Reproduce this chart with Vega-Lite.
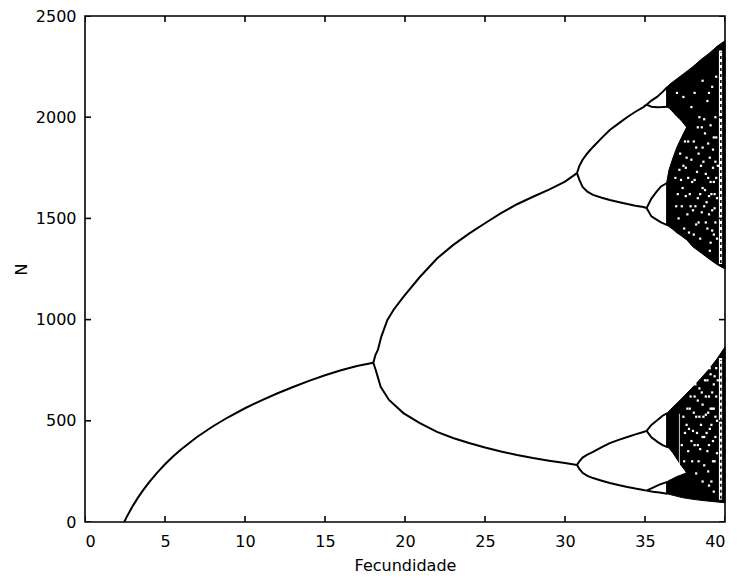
{
  "$schema": "https://vega.github.io/schema/vega-lite/v6.json",
  "width": 640,
  "height": 506,
  "autosize": {"type": "none"},
  "padding": {"left": 85, "top": 16, "right": 12, "bottom": 59},
  "background": "white",
  "config": {
    "view": {"stroke": "black", "strokeWidth": 1.6},
    "axis": {
      "domain": false,
      "ticks": false,
      "grid": false,
      "format": "d",
      "labelFont": "DejaVu Sans",
      "labelFontSize": 16,
      "labelColor": "black",
      "titleFont": "DejaVu Sans",
      "titleFontSize": 16,
      "titleFontWeight": "normal",
      "titleColor": "black"
    }
  },
  "datasets": {
    "xticks": [{"v": 0}, {"v": 5}, {"v": 10}, {"v": 15}, {"v": 20}, {"v": 25}, {"v": 30}, {"v": 35}, {"v": 40}],
    "yticks": [{"v": 0}, {"v": 500}, {"v": 1000}, {"v": 1500}, {"v": 2000}, {"v": 2500}],
    "branches": [
      {"b": "p1", "fec": 2.45, "n": 0}, {"b": "p1", "fec": 2.6, "n": 24}, {"b": "p1", "fec": 2.8, "n": 53},
      {"b": "p1", "fec": 3.0, "n": 81}, {"b": "p1", "fec": 3.3, "n": 119}, {"b": "p1", "fec": 3.6, "n": 154},
      {"b": "p1", "fec": 4.0, "n": 196}, {"b": "p1", "fec": 4.5, "n": 243}, {"b": "p1", "fec": 5, "n": 285},
      {"b": "p1", "fec": 5.5, "n": 324}, {"b": "p1", "fec": 6, "n": 358}, {"b": "p1", "fec": 7, "n": 420},
      {"b": "p1", "fec": 8, "n": 473}, {"b": "p1", "fec": 9, "n": 520}, {"b": "p1", "fec": 10, "n": 562},
      {"b": "p1", "fec": 11, "n": 600}, {"b": "p1", "fec": 12, "n": 635}, {"b": "p1", "fec": 13, "n": 667},
      {"b": "p1", "fec": 14, "n": 697}, {"b": "p1", "fec": 15, "n": 725}, {"b": "p1", "fec": 16, "n": 750},
      {"b": "p1", "fec": 17, "n": 771}, {"b": "p1", "fec": 18.02, "n": 787},

      {"b": "p2a", "fec": 18.02, "n": 787}, {"b": "p2a", "fec": 18.15, "n": 825}, {"b": "p2a", "fec": 18.31, "n": 852},
      {"b": "p2a", "fec": 18.52, "n": 916}, {"b": "p2a", "fec": 18.9, "n": 998}, {"b": "p2a", "fec": 19.3, "n": 1050},
      {"b": "p2a", "fec": 19.9, "n": 1112}, {"b": "p2a", "fec": 20.9, "n": 1208}, {"b": "p2a", "fec": 22, "n": 1302},
      {"b": "p2a", "fec": 23, "n": 1368}, {"b": "p2a", "fec": 24, "n": 1425}, {"b": "p2a", "fec": 25, "n": 1476},
      {"b": "p2a", "fec": 26, "n": 1526}, {"b": "p2a", "fec": 27, "n": 1570}, {"b": "p2a", "fec": 28, "n": 1607},
      {"b": "p2a", "fec": 29, "n": 1642}, {"b": "p2a", "fec": 30, "n": 1682}, {"b": "p2a", "fec": 30.75, "n": 1724},

      {"b": "p2b", "fec": 18.02, "n": 787}, {"b": "p2b", "fec": 18.17, "n": 751}, {"b": "p2b", "fec": 18.48, "n": 668},
      {"b": "p2b", "fec": 19.0, "n": 603}, {"b": "p2b", "fec": 19.9, "n": 538}, {"b": "p2b", "fec": 20.9, "n": 490},
      {"b": "p2b", "fec": 22, "n": 445}, {"b": "p2b", "fec": 23, "n": 415}, {"b": "p2b", "fec": 24, "n": 390},
      {"b": "p2b", "fec": 25, "n": 368}, {"b": "p2b", "fec": 26, "n": 348}, {"b": "p2b", "fec": 27, "n": 331},
      {"b": "p2b", "fec": 28, "n": 316}, {"b": "p2b", "fec": 29, "n": 303}, {"b": "p2b", "fec": 30, "n": 291},
      {"b": "p2b", "fec": 30.75, "n": 282},

      {"b": "p4a", "fec": 30.75, "n": 1724}, {"b": "p4a", "fec": 30.9, "n": 1760}, {"b": "p4a", "fec": 31.1, "n": 1790},
      {"b": "p4a", "fec": 31.4, "n": 1822}, {"b": "p4a", "fec": 31.75, "n": 1853}, {"b": "p4a", "fec": 32.3, "n": 1898},
      {"b": "p4a", "fec": 32.8, "n": 1937}, {"b": "p4a", "fec": 33.4, "n": 1972}, {"b": "p4a", "fec": 33.9, "n": 2001},
      {"b": "p4a", "fec": 34.4, "n": 2027}, {"b": "p4a", "fec": 34.9, "n": 2050}, {"b": "p4a", "fec": 35.1, "n": 2062},

      {"b": "p4b", "fec": 30.75, "n": 1724}, {"b": "p4b", "fec": 30.9, "n": 1690}, {"b": "p4b", "fec": 31.1, "n": 1655},
      {"b": "p4b", "fec": 31.4, "n": 1632}, {"b": "p4b", "fec": 31.75, "n": 1616}, {"b": "p4b", "fec": 32.3, "n": 1602},
      {"b": "p4b", "fec": 32.8, "n": 1591}, {"b": "p4b", "fec": 33.4, "n": 1580}, {"b": "p4b", "fec": 33.9, "n": 1571},
      {"b": "p4b", "fec": 34.4, "n": 1563}, {"b": "p4b", "fec": 34.9, "n": 1556}, {"b": "p4b", "fec": 35.1, "n": 1551},

      {"b": "p4c", "fec": 30.75, "n": 282}, {"b": "p4c", "fec": 30.9, "n": 300}, {"b": "p4c", "fec": 31.1, "n": 318},
      {"b": "p4c", "fec": 31.4, "n": 333}, {"b": "p4c", "fec": 31.75, "n": 346}, {"b": "p4c", "fec": 32.3, "n": 370},
      {"b": "p4c", "fec": 32.8, "n": 390}, {"b": "p4c", "fec": 33.4, "n": 407}, {"b": "p4c", "fec": 33.9, "n": 420},
      {"b": "p4c", "fec": 34.4, "n": 433}, {"b": "p4c", "fec": 34.9, "n": 445}, {"b": "p4c", "fec": 35.1, "n": 450},

      {"b": "p4d", "fec": 30.75, "n": 282}, {"b": "p4d", "fec": 30.9, "n": 262}, {"b": "p4d", "fec": 31.1, "n": 243},
      {"b": "p4d", "fec": 31.4, "n": 228}, {"b": "p4d", "fec": 31.75, "n": 217}, {"b": "p4d", "fec": 32.3, "n": 204},
      {"b": "p4d", "fec": 32.8, "n": 193}, {"b": "p4d", "fec": 33.4, "n": 182}, {"b": "p4d", "fec": 33.9, "n": 173},
      {"b": "p4d", "fec": 34.4, "n": 165}, {"b": "p4d", "fec": 34.9, "n": 158}, {"b": "p4d", "fec": 35.1, "n": 155},

      {"b": "p8a", "fec": 35.1, "n": 2062}, {"b": "p8a", "fec": 35.4, "n": 2082}, {"b": "p8a", "fec": 35.75, "n": 2100},
      {"b": "p8a", "fec": 36.1, "n": 2125}, {"b": "p8a", "fec": 36.4, "n": 2149},
      {"b": "p8b", "fec": 35.1, "n": 2062}, {"b": "p8b", "fec": 35.4, "n": 2052}, {"b": "p8b", "fec": 35.75, "n": 2049},
      {"b": "p8b", "fec": 36.1, "n": 2050}, {"b": "p8b", "fec": 36.4, "n": 2052},
      {"b": "p8c", "fec": 35.1, "n": 1551}, {"b": "p8c", "fec": 35.4, "n": 1598}, {"b": "p8c", "fec": 35.7, "n": 1630},
      {"b": "p8c", "fec": 36.0, "n": 1658}, {"b": "p8c", "fec": 36.4, "n": 1675},
      {"b": "p8d", "fec": 35.1, "n": 1551}, {"b": "p8d", "fec": 35.4, "n": 1510}, {"b": "p8d", "fec": 35.7, "n": 1495},
      {"b": "p8d", "fec": 36.0, "n": 1480}, {"b": "p8d", "fec": 36.4, "n": 1467},
      {"b": "p8e", "fec": 35.1, "n": 450}, {"b": "p8e", "fec": 35.4, "n": 480}, {"b": "p8e", "fec": 35.8, "n": 505},
      {"b": "p8e", "fec": 36.1, "n": 525}, {"b": "p8e", "fec": 36.4, "n": 538},
      {"b": "p8f", "fec": 35.1, "n": 450}, {"b": "p8f", "fec": 35.4, "n": 418}, {"b": "p8f", "fec": 35.8, "n": 395},
      {"b": "p8f", "fec": 36.1, "n": 380}, {"b": "p8f", "fec": 36.4, "n": 370},
      {"b": "p8g", "fec": 35.1, "n": 155}, {"b": "p8g", "fec": 35.5, "n": 170}, {"b": "p8g", "fec": 35.9, "n": 185},
      {"b": "p8g", "fec": 36.4, "n": 198},
      {"b": "p8h", "fec": 35.1, "n": 155}, {"b": "p8h", "fec": 35.5, "n": 150}, {"b": "p8h", "fec": 35.9, "n": 146},
      {"b": "p8h", "fec": 36.4, "n": 140}
    ],
    "chaos": [
      {"band": "u1", "fec": 36.35, "lo": 2052, "hi": 2145}, {"band": "u1", "fec": 36.5, "lo": 2045, "hi": 2160},
      {"band": "u1", "fec": 36.75, "lo": 2025, "hi": 2175}, {"band": "u1", "fec": 37.0, "lo": 2003, "hi": 2190},
      {"band": "u1", "fec": 37.25, "lo": 1985, "hi": 2205}, {"band": "u1", "fec": 37.5, "lo": 1960, "hi": 2220},
      {"band": "u1", "fec": 37.6, "lo": 1950, "hi": 2226},

      {"band": "u2", "fec": 36.35, "lo": 1467, "hi": 1675}, {"band": "u2", "fec": 36.5, "lo": 1460, "hi": 1740},
      {"band": "u2", "fec": 36.75, "lo": 1445, "hi": 1800}, {"band": "u2", "fec": 37.0, "lo": 1428, "hi": 1853},
      {"band": "u2", "fec": 37.25, "lo": 1415, "hi": 1895}, {"band": "u2", "fec": 37.5, "lo": 1400, "hi": 1935},
      {"band": "u2", "fec": 37.6, "lo": 1395, "hi": 1950},

      {"band": "u", "fec": 37.6, "lo": 1395, "hi": 2226}, {"band": "u", "fec": 38.0, "lo": 1359, "hi": 2250},
      {"band": "u", "fec": 38.5, "lo": 1330, "hi": 2285}, {"band": "u", "fec": 39.0, "lo": 1300, "hi": 2315},
      {"band": "u", "fec": 39.5, "lo": 1272, "hi": 2350}, {"band": "u", "fec": 40.0, "lo": 1250, "hi": 2378},

      {"band": "l1", "fec": 36.35, "lo": 370, "hi": 535}, {"band": "l1", "fec": 36.5, "lo": 365, "hi": 548},
      {"band": "l1", "fec": 36.75, "lo": 340, "hi": 568}, {"band": "l1", "fec": 37.0, "lo": 310, "hi": 587},
      {"band": "l1", "fec": 37.25, "lo": 280, "hi": 607}, {"band": "l1", "fec": 37.5, "lo": 255, "hi": 627},
      {"band": "l1", "fec": 37.6, "lo": 242, "hi": 635},

      {"band": "l2", "fec": 36.35, "lo": 140, "hi": 198}, {"band": "l2", "fec": 36.5, "lo": 137, "hi": 205},
      {"band": "l2", "fec": 36.75, "lo": 132, "hi": 215}, {"band": "l2", "fec": 37.0, "lo": 127, "hi": 225},
      {"band": "l2", "fec": 37.25, "lo": 122, "hi": 232}, {"band": "l2", "fec": 37.5, "lo": 118, "hi": 240},
      {"band": "l2", "fec": 37.6, "lo": 117, "hi": 242},

      {"band": "l", "fec": 37.6, "lo": 117, "hi": 635}, {"band": "l", "fec": 38.0, "lo": 112, "hi": 667},
      {"band": "l", "fec": 38.5, "lo": 107, "hi": 710}, {"band": "l", "fec": 39.0, "lo": 103, "hi": 755},
      {"band": "l", "fec": 39.5, "lo": 99, "hi": 806}, {"band": "l", "fec": 40.0, "lo": 95, "hi": 865}
    ],
    "gaps": [
      {"f0": 39.62, "f1": 39.82, "lo": 1275, "hi": 2330},
      {"f0": 39.62, "f1": 39.82, "lo": 110, "hi": 810},
      {"f0": 37.12, "f1": 37.17, "lo": 260, "hi": 535}
    ],
    "window": [
      {"fec": 39.74, "lo": 1280, "hi": 2320},
      {"fec": 39.74, "lo": 115, "hi": 800}
    ],
    "speckles": [
      {"fec": 37.2, "n": 1820}, {"fec": 37.4, "n": 1760}, {"fec": 37.5, "n": 1880}, {"fec": 37.7, "n": 1700},
      {"fec": 37.8, "n": 1620}, {"fec": 37.9, "n": 1790}, {"fec": 38.0, "n": 1540}, {"fec": 38.1, "n": 1690},
      {"fec": 38.2, "n": 1850}, {"fec": 38.3, "n": 1600}, {"fec": 38.35, "n": 1480}, {"fec": 38.5, "n": 1760},
      {"fec": 38.6, "n": 1650}, {"fec": 38.7, "n": 1560}, {"fec": 38.75, "n": 1920}, {"fec": 38.8, "n": 1720},
      {"fec": 38.9, "n": 1450}, {"fec": 39.0, "n": 1610}, {"fec": 39.05, "n": 1800}, {"fec": 39.1, "n": 1680},
      {"fec": 39.2, "n": 1540}, {"fec": 39.25, "n": 1750}, {"fec": 39.3, "n": 1900}, {"fec": 39.35, "n": 1620},
      {"fec": 39.4, "n": 1480}, {"fec": 39.45, "n": 1700}, {"fec": 38.4, "n": 2000}, {"fec": 38.9, "n": 2080},
      {"fec": 39.2, "n": 2150}, {"fec": 37.9, "n": 2050}, {"fec": 39.4, "n": 2000}, {"fec": 38.6, "n": 1850},
      {"fec": 37.6, "n": 1800}, {"fec": 38.2, "n": 1470}, {"fec": 39.1, "n": 1380}, {"fec": 38.85, "n": 1580},
      {"fec": 37.35, "n": 1650}, {"fec": 39.3, "n": 1420},
      {"fec": 36.9, "n": 1700}, {"fec": 36.95, "n": 1560}, {"fec": 37.05, "n": 1620}, {"fec": 37.1, "n": 1500},
      {"fec": 37.15, "n": 1740}, {"fec": 37.3, "n": 1560}, {"fec": 37.45, "n": 1450}, {"fec": 37.55, "n": 1610},
      {"fec": 37.65, "n": 1520}, {"fec": 37.7, "n": 1880}, {"fec": 37.75, "n": 1430}, {"fec": 37.85, "n": 1560},
      {"fec": 37.95, "n": 1680}, {"fec": 38.05, "n": 1880}, {"fec": 38.05, "n": 1420}, {"fec": 38.15, "n": 1560},
      {"fec": 38.25, "n": 1730}, {"fec": 38.3, "n": 1950}, {"fec": 38.45, "n": 1620}, {"fec": 38.45, "n": 1400},
      {"fec": 38.55, "n": 1530}, {"fec": 38.65, "n": 1780}, {"fec": 38.7, "n": 1990}, {"fec": 38.8, "n": 1480},
      {"fec": 38.95, "n": 1700}, {"fec": 38.95, "n": 1870}, {"fec": 39.0, "n": 1520}, {"fec": 39.0, "n": 2120},
      {"fec": 39.1, "n": 1960}, {"fec": 39.15, "n": 1620}, {"fec": 39.2, "n": 1440}, {"fec": 39.25, "n": 1840},
      {"fec": 39.3, "n": 1680}, {"fec": 39.35, "n": 1550}, {"fec": 39.4, "n": 1780}, {"fec": 39.45, "n": 1900},
      {"fec": 39.5, "n": 1600}, {"fec": 39.5, "n": 1400}, {"fec": 39.55, "n": 1760}, {"fec": 38.1, "n": 2120},
      {"fec": 38.6, "n": 2180}, {"fec": 37.4, "n": 2100}, {"fec": 37.0, "n": 2120}, {"fec": 38.35, "n": 1820},
      {"fec": 38.75, "n": 1640}, {"fec": 39.05, "n": 1340}, {"fec": 37.55, "n": 1750}, {"fec": 37.25, "n": 1690},
      {"fec": 38.55, "n": 1950}, {"fec": 39.45, "n": 2200},
      {"fec": 37.8, "n": 560}, {"fec": 38.0, "n": 450}, {"fec": 38.1, "n": 620}, {"fec": 38.2, "n": 520},
      {"fec": 38.3, "n": 380}, {"fec": 38.4, "n": 660}, {"fec": 38.5, "n": 480}, {"fec": 38.6, "n": 580},
      {"fec": 38.7, "n": 420}, {"fec": 38.75, "n": 700}, {"fec": 38.8, "n": 530}, {"fec": 38.9, "n": 350},
      {"fec": 39.0, "n": 620}, {"fec": 39.05, "n": 460}, {"fec": 39.1, "n": 730}, {"fec": 39.2, "n": 560},
      {"fec": 39.25, "n": 400}, {"fec": 39.3, "n": 680}, {"fec": 39.35, "n": 300}, {"fec": 39.4, "n": 520},
      {"fec": 39.45, "n": 760}, {"fec": 37.9, "n": 400}, {"fec": 38.35, "n": 300}, {"fec": 37.6, "n": 480},
      {"fec": 37.4, "n": 520}, {"fec": 38.95, "n": 250}, {"fec": 39.15, "n": 200},
      {"fec": 37.3, "n": 380}, {"fec": 37.45, "n": 300}, {"fec": 37.5, "n": 440}, {"fec": 37.65, "n": 560},
      {"fec": 37.7, "n": 350}, {"fec": 37.75, "n": 460}, {"fec": 37.85, "n": 620}, {"fec": 37.95, "n": 300},
      {"fec": 38.05, "n": 540}, {"fec": 38.1, "n": 380}, {"fec": 38.15, "n": 680}, {"fec": 38.25, "n": 440},
      {"fec": 38.3, "n": 600}, {"fec": 38.4, "n": 520}, {"fec": 38.45, "n": 360}, {"fec": 38.55, "n": 640},
      {"fec": 38.6, "n": 420}, {"fec": 38.65, "n": 520}, {"fec": 38.7, "n": 280}, {"fec": 38.8, "n": 620},
      {"fec": 38.85, "n": 440}, {"fec": 38.9, "n": 700}, {"fec": 38.95, "n": 540}, {"fec": 39.0, "n": 380},
      {"fec": 39.05, "n": 760}, {"fec": 39.1, "n": 560}, {"fec": 39.15, "n": 480}, {"fec": 39.2, "n": 640},
      {"fec": 39.25, "n": 300}, {"fec": 39.3, "n": 560}, {"fec": 39.35, "n": 720}, {"fec": 39.4, "n": 420},
      {"fec": 39.45, "n": 620}, {"fec": 39.5, "n": 500}, {"fec": 39.5, "n": 340}, {"fec": 39.55, "n": 700},
      {"fec": 38.2, "n": 240}, {"fec": 38.6, "n": 200}, {"fec": 39.0, "n": 180}, {"fec": 39.3, "n": 150}
    ]
  },
  "layer": [
    {
      "data": {"name": "chaos"},
      "mark": {"type": "area", "color": "black", "opacity": 1, "stroke": "black", "strokeWidth": 1},
      "encoding": {
        "x": {"field": "fec", "type": "quantitative", "scale": {"domain": [0, 40], "nice": false},
              "axis": {"orient": "bottom", "values": [0, 5, 10, 15, 20, 25, 30, 35, 40], "title": "Fecundidade",
                       "labelPadding": 11, "titlePadding": 8}},
        "y": {"field": "lo", "type": "quantitative", "scale": {"domain": [0, 2500], "nice": false},
              "axis": {"orient": "left", "values": [0, 500, 1000, 1500, 2000, 2500], "title": "N",
                       "labelPadding": 9, "titlePadding": 6}},
        "y2": {"field": "hi"},
        "detail": {"field": "band"}
      }
    },
    {
      "data": {"name": "gaps"},
      "mark": {"type": "rect", "color": "white", "opacity": 1},
      "encoding": {
        "x": {"field": "f0", "type": "quantitative"},
        "x2": {"field": "f1"},
        "y": {"field": "lo", "type": "quantitative"},
        "y2": {"field": "hi"}
      }
    },
    {
      "data": {"name": "window"},
      "mark": {"type": "rule", "color": "black", "strokeWidth": 1.5, "strokeDash": [3, 3]},
      "encoding": {
        "x": {"field": "fec", "type": "quantitative"},
        "y": {"field": "lo", "type": "quantitative"},
        "y2": {"field": "hi"}
      }
    },
    {
      "data": {"name": "speckles"},
      "mark": {"type": "square", "color": "white", "size": 5, "opacity": 1},
      "encoding": {
        "x": {"field": "fec", "type": "quantitative"},
        "y": {"field": "n", "type": "quantitative"}
      }
    },
    {
      "data": {"name": "branches"},
      "mark": {"type": "line", "color": "black", "strokeWidth": 2},
      "encoding": {
        "x": {"field": "fec", "type": "quantitative"},
        "y": {"field": "n", "type": "quantitative"},
        "detail": {"field": "b"},
        "order": {"field": "fec"}
      }
    },
    {
      "data": {"name": "xticks"},
      "mark": {"type": "tick", "orient": "vertical", "color": "black", "size": 12, "thickness": 1.6, "opacity": 1, "clip": true},
      "encoding": {
        "x": {"field": "v", "type": "quantitative"},
        "y": {"datum": 0, "type": "quantitative"}
      }
    },
    {
      "data": {"name": "xticks"},
      "mark": {"type": "tick", "orient": "vertical", "color": "black", "size": 12, "thickness": 1.6, "opacity": 1, "clip": true},
      "encoding": {
        "x": {"field": "v", "type": "quantitative"},
        "y": {"datum": 2500, "type": "quantitative"}
      }
    },
    {
      "data": {"name": "yticks"},
      "mark": {"type": "tick", "orient": "horizontal", "color": "black", "size": 12, "thickness": 1.6, "opacity": 1, "clip": true},
      "encoding": {
        "y": {"field": "v", "type": "quantitative"},
        "x": {"datum": 0, "type": "quantitative"}
      }
    },
    {
      "data": {"name": "yticks"},
      "mark": {"type": "tick", "orient": "horizontal", "color": "black", "size": 12, "thickness": 1.6, "opacity": 1, "clip": true},
      "encoding": {
        "y": {"field": "v", "type": "quantitative"},
        "x": {"datum": 40, "type": "quantitative"}
      }
    }
  ]
}
